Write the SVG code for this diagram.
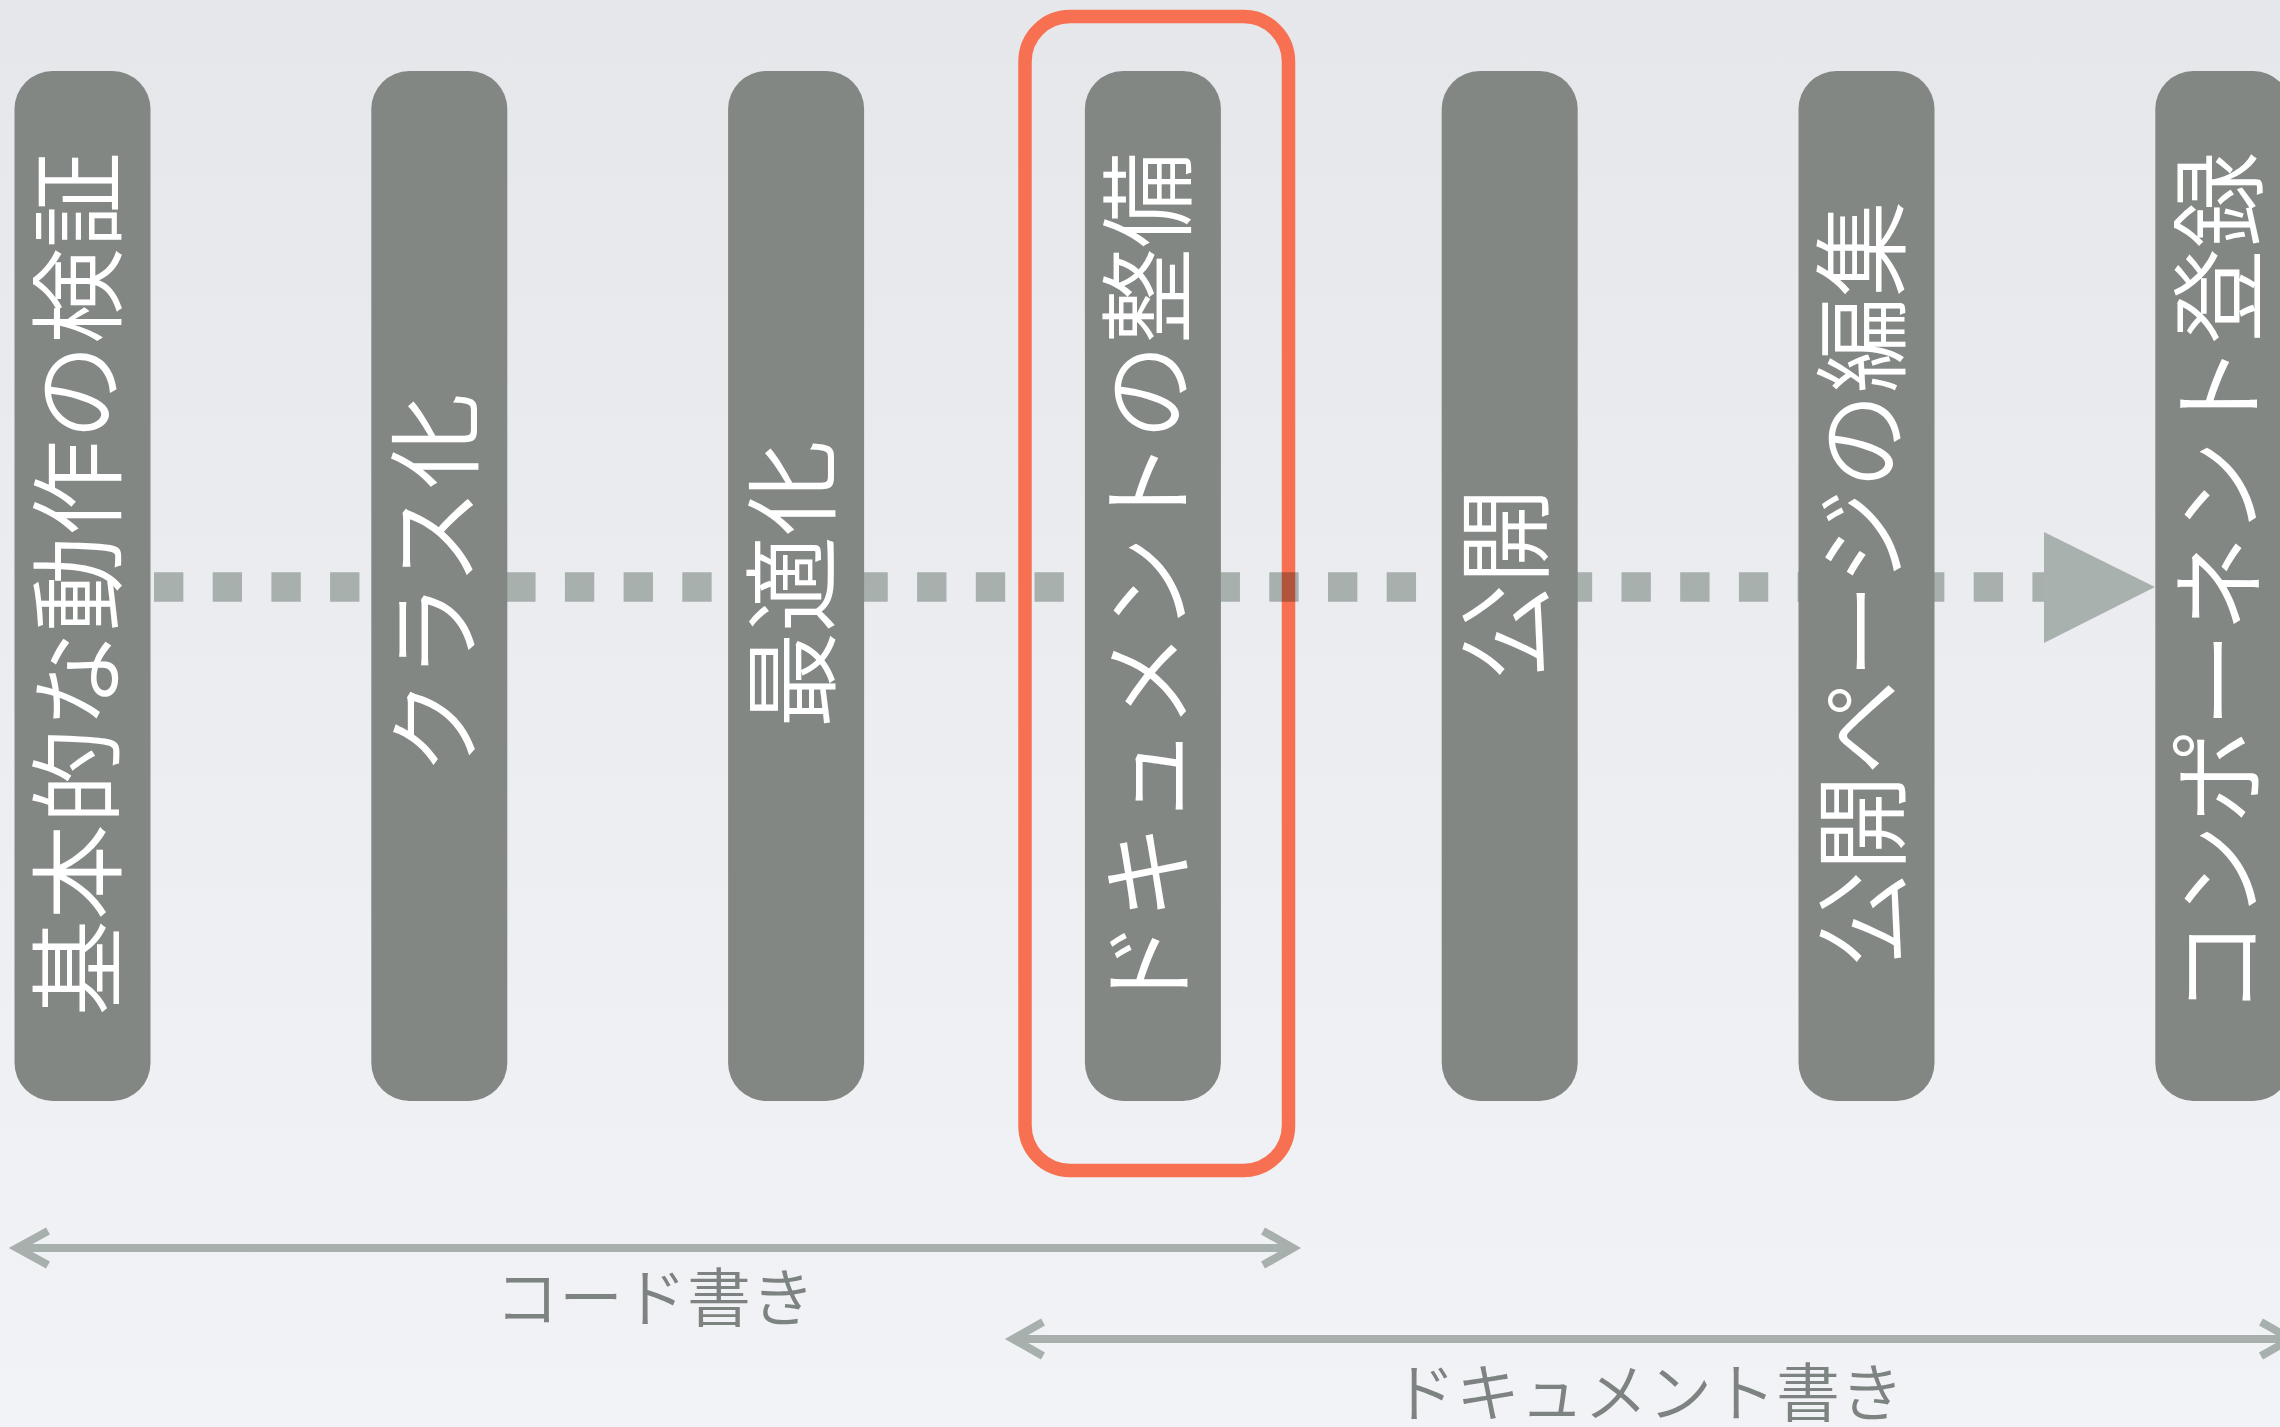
<svg xmlns="http://www.w3.org/2000/svg" width="2280" height="1427" viewBox="0 0 2280 1427">
<defs>
<linearGradient id="bg" x1="0" y1="0" x2="0" y2="1">
<stop offset="0" stop-color="#E5E7EA"/>
<stop offset="1" stop-color="#F2F3F6"/>
</linearGradient>
<style>
.bar{fill:#828784}
.lbl{font-family:"Noto Sans CJK JP","Liberation Sans",sans-serif;font-weight:350;font-size:96px;fill:#FFFFFF;text-anchor:middle;dominant-baseline:central}
.cap{font-family:"Noto Sans CJK JP","Liberation Sans",sans-serif;font-weight:350;font-size:64px;fill:#7D8381;text-anchor:middle;dominant-baseline:central}
.span{fill:none;stroke:#A8B0AE;stroke-width:8;stroke-linejoin:miter}
</style>
</defs>
<rect x="0" y="0" width="2280" height="1427" fill="url(#bg)"/>
<g id="highlight">
<rect x="1025" y="16.5" width="263.5" height="1154" rx="45" ry="45" fill="none" stroke="#F87052" stroke-width="13.5"/>
</g>
<g id="connectors">
<line x1="154" y1="587" x2="2044" y2="587" stroke="#B7BEB9" stroke-width="29.3" stroke-dasharray="29.35 29.35" style="mix-blend-mode:multiply"/>
<polygon points="2044,532 2155,587 2044,643" fill="#A9B1AF"/>
<g id="span-code">
<line class="span" x1="17" y1="1248" x2="1291" y2="1248"/>
<polyline class="span" points="48,1231 17,1248 48,1265"/>
<polyline class="span" points="1263,1231 1293,1248 1263,1265"/>
</g>
<g id="span-doc">
<line class="span" x1="1013" y1="1339" x2="2290" y2="1339"/>
<polyline class="span" points="1043,1322 1013,1339 1043,1356"/>
<polyline class="span" points="2261,1322 2291,1339 2261,1356"/>
</g>
</g>
<g id="node1"><rect class="bar" x="14.5" y="71" width="136" height="1030" rx="38" ry="38"/><text class="lbl" transform="translate(71.5,584) rotate(-90)">基本的な動作の検証</text></g>
<g id="node2"><rect class="bar" x="371.3" y="71" width="136" height="1030" rx="38" ry="38"/><text class="lbl" transform="translate(428.3,584) rotate(-90)">クラス化</text></g>
<g id="node3"><rect class="bar" x="728.1" y="71" width="136" height="1030" rx="38" ry="38"/><text class="lbl" transform="translate(785.1,584) rotate(-90)">最適化</text></g>
<g id="node4"><rect class="bar" x="1084.9" y="71" width="136" height="1030" rx="38" ry="38"/><text class="lbl" transform="translate(1141.9,584) rotate(-90)">ドキュメントの整備</text></g>
<g id="node5"><rect class="bar" x="1441.7" y="71" width="136" height="1030" rx="38" ry="38"/><text class="lbl" transform="translate(1498.7,584) rotate(-90)">公開</text></g>
<g id="node6"><rect class="bar" x="1798.5" y="71" width="136" height="1030" rx="38" ry="38"/><text class="lbl" transform="translate(1855.5,584) rotate(-90)">公開ページの編集</text></g>
<g id="node7"><rect class="bar" x="2155.3" y="71" width="136" height="1030" rx="38" ry="38"/><text class="lbl" transform="translate(2212.3,584) rotate(-90)">コンポーネント登録</text></g>
<g id="captions">
<text class="cap" x="655" y="1293">コード書き</text>
<text class="cap" x="1648" y="1388">ドキュメント書き</text>
</g>
</svg>
